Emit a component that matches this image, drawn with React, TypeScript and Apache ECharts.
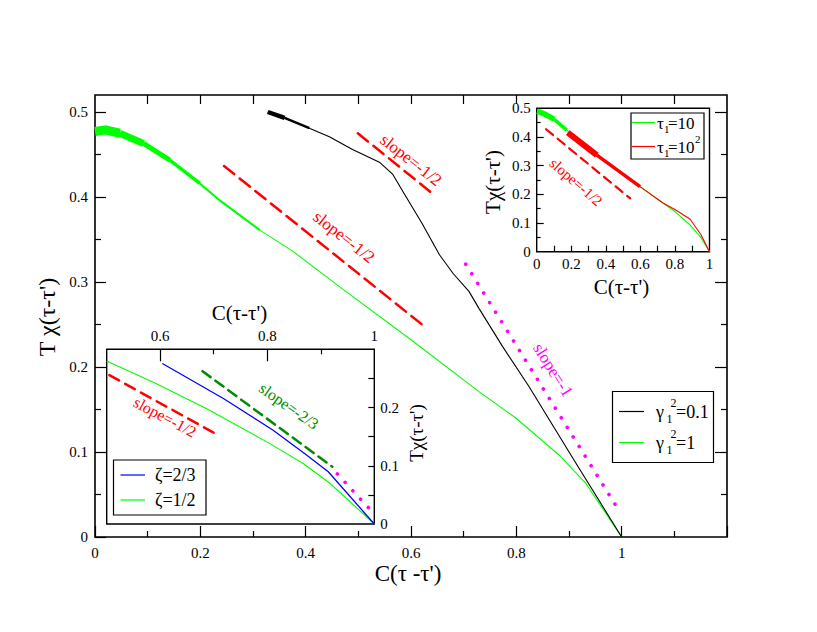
import { useEffect, useRef } from "react";
import * as echarts from "echarts";

// ---------- data ----------
const mainGreen: number[][] = [
  [0.0, 0.477], [0.02, 0.479], [0.047, 0.475], [0.092, 0.463], [0.142, 0.4435],
  [0.199, 0.416], [0.237, 0.396], [0.313, 0.361], [0.376, 0.336], [0.464, 0.2945],
  [0.6, 0.232], [0.729, 0.171], [0.799, 0.14], [0.881, 0.0965], [0.932, 0.063], [1.0, 0],
];
const mainBlack: number[][] = [
  [0.328, 0.5], [0.36, 0.493], [0.407, 0.481], [0.445, 0.471], [0.489, 0.456],
  [0.54, 0.441], [0.565, 0.427], [0.584, 0.407], [0.62, 0.37], [0.654, 0.332],
  [0.68, 0.31], [0.71, 0.289], [0.729, 0.269], [0.774, 0.224], [0.824, 0.177],
  [0.91, 0.09], [1.0, 0],
];
const mainSlopeHalfLow: number[][] = [[0.245, 0.4365], [0.629, 0.246]];
const mainSlopeHalfHigh: number[][] = [[0.499, 0.475], [0.646, 0.4015]];
const mainSlopeOne: number[][] = [[0.704, 0.321], [0.992, 0.034]];

const inset1Tau10: number[][] = [
  [0.003, 0.49], [0.05, 0.479], [0.1, 0.462], [0.174, 0.424], [0.348, 0.337],
  [0.598, 0.227], [0.733, 0.169], [0.8, 0.14], [0.888, 0.093], [0.95, 0.05], [1.0, 0],
];
const inset1Tau100: number[][] = [
  [0.18, 0.415], [0.348, 0.337], [0.598, 0.227], [0.733, 0.169], [0.8, 0.147],
  [0.888, 0.113], [0.95, 0.06], [1.0, 0],
];
const inset1SlopeHalf: number[][] = [[0.054, 0.427], [0.541, 0.186]];

const inset2Zeta23: number[][] = [
  [0.604, 0.2756], [0.718, 0.2156], [0.811, 0.161], [0.874, 0.118], [0.914, 0.0897], [1.0, 0],
];
const inset2Zeta12: number[][] = [
  [0.5, 0.28], [0.593, 0.241], [0.687, 0.198], [0.805, 0.138], [0.867, 0.104], [0.917, 0.07], [1.0, 0],
];
const inset2SlopeHalf: number[][] = [[0.505, 0.2556], [0.7055, 0.154]];
const inset2SlopeTwoThirds: number[][] = [[0.679, 0.2624], [0.9215, 0.0983]];
const inset2SlopeOne: number[][] = [[0.931, 0.086], [1.0, 0.017]];

// ---------- tick values ----------
const mainXLabels = [0, 0.2, 0.4, 0.6, 0.8, 1];
const mainXMajor = [0, 0.2, 0.4, 0.6, 0.8, 1, 1.2];
const mainXMinor = [0.1, 0.3, 0.5, 0.7, 0.9, 1.1];
const mainXTop = [0.1, 0.2, 0.3, 0.4, 0.5, 0.6, 0.7, 0.8, 0.9, 1.0, 1.1];
const mainYLabels = [0, 0.1, 0.2, 0.3, 0.4, 0.5];
const mainYMinor = [0.05, 0.15, 0.25, 0.35, 0.45];
const inset1XLabels = [0, 0.2, 0.4, 0.6, 0.8, 1];
const inset1XTicks = [0.1, 0.2, 0.3, 0.4, 0.5, 0.6, 0.7, 0.8, 0.9];
const inset1YLabels = [0, 0.1, 0.2, 0.3, 0.4, 0.5];
const inset1YMajor = [0.1, 0.2, 0.3, 0.4];
const inset1YMinor = [0.05, 0.15, 0.25, 0.35, 0.45];
const inset2XLabels = [0.6, 0.8, 1];
const inset2XMajor = [0.6, 0.8];
const inset2XMinor = [0.7, 0.9];
const inset2YLabels = [0, 0.1, 0.2];
const inset2YTicks = [0.05, 0.1, 0.15, 0.2, 0.25];

const SERIF = '"Liberation Serif", "Times New Roman", serif';
const FONT = '"Liberation Serif", serif';
const GREEN = "#00ff00";
const RED = "#ff0000";
const MAGENTA = "#ff00ff";
const BLUE = "#0000ff";
const DKGREEN = "#008b00";

const fmt = (v: number) => String(Number(Number(v).toFixed(2)));

function axis(
  grid: number, position: string, min: number, max: number,
  ticks: number[], len: number, labels?: number[], margin = 6, fontSize = 15
) {
  return {
    type: "value",
    gridIndex: grid,
    position,
    min,
    max,
    axisLine: { show: false, onZero: false },
    splitLine: { show: false },
    axisTick: {
      show: true,
      inside: true,
      length: len,
      customValues: ticks,
      lineStyle: { color: "#000", width: 1.2 },
    },
    axisLabel: labels
      ? {
          show: true,
          customValues: labels,
          margin,
          color: "#000",
          fontFamily: SERIF,
          fontSize,
          formatter: (v: number) => `{t|${fmt(v)}}`,
          rich: { t: { fontFamily: SERIF, fontSize, color: "#000" } },
        }
      : { show: false },
  };
}

function line(data: number[][], xi: number, yi: number, color: string, width: number, type: any = "solid", z = 2) {
  return {
    type: "line",
    data,
    xAxisIndex: xi,
    yAxisIndex: yi,
    symbol: "none",
    showSymbol: false,
    silent: true,
    z,
    lineStyle: { color, width, type, cap: Array.isArray(type) ? "round" : "butt", join: "round" },
  };
}

function txt(text: string, x: number, y: number, size: number, color = "#000", rotDeg = 0, align = "center") {
  return {
    type: "text",
    x,
    y,
    rotation: (rotDeg * Math.PI) / 180,
    silent: true,
    z: 100,
    style: {
      text,
      fill: color,
      font: `${size}px ${FONT}`,
      align,
      verticalAlign: "middle",
      textAlign: align,
      textVerticalAlign: "middle",
    },
  };
}

function seg(x1: number, y1: number, x2: number, y2: number, color: string, w = 1.2) {
  return { type: "line", silent: true, z: 100, shape: { x1, y1, x2, y2 }, style: { stroke: color, lineWidth: w } };
}

function box(x: number, y: number, w: number, h: number) {
  return { type: "rect", silent: true, z: 99, shape: { x, y, width: w, height: h }, style: { fill: "#fff", stroke: "#000", lineWidth: 1.2 } };
}

export default function App() {
  const ref = useRef<HTMLDivElement>(null);

  useEffect(() => {
    if (!ref.current) return;
    const chart = echarts.init(ref.current, undefined, { renderer: "svg" });

    const xAxis = [
      axis(0, "bottom", 0, 1.2, mainXMajor, 11, mainXLabels, 8, 15), // 0
      axis(0, "bottom", 0, 1.2, mainXMinor, 6), // 1
      axis(0, "top", 0, 1.2, mainXTop, 9), // 2
      axis(1, "bottom", 0, 1, inset1XTicks, 6, inset1XLabels, 5, 15), // 3
      axis(2, "top", 0.5, 1, inset2XMajor, 12, inset2XLabels, 6, 15), // 4
      axis(2, "top", 0.5, 1, inset2XMinor, 5), // 5
    ];
    const yAxis = [
      axis(0, "left", 0, 0.52, mainYLabels, 11, mainYLabels, 7, 15), // 0
      axis(0, "left", 0, 0.52, mainYMinor, 6), // 1
      axis(0, "right", 0, 0.52, mainYLabels.slice(1), 12), // 2
      axis(0, "right", 0, 0.52, mainYMinor, 6), // 3
      axis(1, "left", 0, 0.5, inset1YMajor, 7, inset1YLabels, 6, 15), // 4
      axis(1, "left", 0, 0.5, inset1YMinor, 4), // 5
      axis(2, "right", 0, 0.3, inset2YTicks, 6, inset2YLabels, 6, 15), // 6
    ];

    const series: any[] = [
      // main chart
      line(mainGreen, 0, 0, GREEN, 1.1),
      line(mainGreen.slice(0, 3), 0, 0, GREEN, 9),
      line(mainGreen.slice(2, 4), 0, 0, GREEN, 7),
      line(mainGreen.slice(3, 5), 0, 0, GREEN, 5),
      line(mainGreen.slice(4, 6), 0, 0, GREEN, 3.5),
      line(mainGreen.slice(5, 8), 0, 0, GREEN, 2),
      line(mainBlack, 0, 0, "#000", 1.1, "solid", 3),
      line(mainBlack.slice(0, 2), 0, 0, "#000", 4.5, "solid", 3),
      line(mainBlack.slice(1, 3), 0, 0, "#000", 2.5, "solid", 3),
      line(mainSlopeHalfLow, 0, 0, RED, 2.5, [13, 7]),
      line(mainSlopeHalfHigh, 0, 0, RED, 2.5, [13, 7]),
      line(mainSlopeOne, 0, 0, MAGENTA, 3.6, [0.1, 11.2]),
      // inset 1
      line(inset1Tau10, 3, 4, GREEN, 1.1),
      line(inset1Tau10.slice(0, 3), 3, 4, GREEN, 5.5),
      line(inset1Tau10.slice(2, 4), 3, 4, GREEN, 3.5),
      line(inset1Tau100, 3, 4, RED, 1.1, "solid", 3),
      line(inset1Tau100.slice(0, 2), 3, 4, RED, 6, "solid", 3),
      line(inset1Tau100.slice(1, 3), 3, 4, RED, 3.5, "solid", 3),
      line(inset1SlopeHalf, 3, 4, RED, 2.2, [9, 6]),
      // inset 2
      line(inset2Zeta23, 4, 6, BLUE, 1.3, "solid", 3),
      line(inset2Zeta12, 4, 6, GREEN, 1.1),
      line(inset2SlopeHalf, 4, 6, RED, 2.5, [11, 7]),
      line(inset2SlopeTwoThirds, 4, 6, DKGREEN, 2.5, [10, 6]),
      line(inset2SlopeOne, 4, 6, MAGENTA, 3.6, [0.1, 11.3]),
    ];

    const graphic: any[] = [
      // axis titles
      txt("C(τ -τ')", 408, 573, 23),
      txt("T χ(τ-τ')", 47, 317, 24, "#000", 90),
      txt("Tχ(τ-τ')", 492.5, 182, 21, "#000", 90),
      txt("C(τ-τ')", 621.5, 287, 21),
      txt("C(τ-τ')", 239.5, 313, 21),
      txt("Tχ(τ-τ')", 416, 433, 19, "#000", 90),
      // slope annotations
      txt("slope=-1/2", 344, 237, 17, RED, -38),
      txt("slope=-1/2", 411, 160, 17, RED, -38),
      txt("slope=-1", 553, 370, 17, MAGENTA, -58),
      txt("slope=-1/2", 576, 182, 15, RED, -41),
      txt("slope=-1/2", 165, 417, 16, RED, -28),
      txt("slope=-2/3", 289, 406, 16, DKGREEN, -35),
      // main legend
      box(612.5, 391.5, 101, 71),
      seg(619, 411.5, 644, 411.5, "#000"),
      txt("γ", 656, 412, 18, "#000", 0, "left"),
      txt("1", 666.5, 418.5, 12, "#000", 0, "left"),
      txt("2", 670.5, 403, 12, "#000", 0, "left"),
      txt("=0.1", 676, 412, 18, "#000", 0, "left"),
      seg(619, 442.5, 644, 442.5, GREEN),
      txt("γ", 656, 443, 18, "#000", 0, "left"),
      txt("1", 666.5, 449.5, 12, "#000", 0, "left"),
      txt("2", 670.5, 434, 12, "#000", 0, "left"),
      txt("=1", 676, 443, 18, "#000", 0, "left"),
      // inset 1 legend
      box(631, 113, 73, 46),
      seg(632, 122.5, 655, 122.5, GREEN),
      txt("τ", 657, 123, 17, "#000", 0, "left"),
      txt("1", 664, 129, 11, "#000", 0, "left"),
      txt("=10", 668, 123, 17, "#000", 0, "left"),
      seg(632, 146.5, 655, 146.5, RED),
      txt("τ", 657, 147, 17, "#000", 0, "left"),
      txt("1", 664, 153, 11, "#000", 0, "left"),
      txt("=10", 668, 147, 17, "#000", 0, "left"),
      txt("2", 695, 139, 11, "#000", 0, "left"),
      // inset 2 legend
      box(113.5, 460, 92.5, 55),
      seg(120.5, 475, 145, 475, BLUE),
      txt("ζ=2/3", 155, 475, 18, "#000", 0, "left"),
      seg(120.5, 500, 145, 500, GREEN),
      txt("ζ=1/2", 155, 500, 18, "#000", 0, "left"),
    ];

    chart.setOption({
      animation: false,
      backgroundColor: "#fff",
      textStyle: { fontFamily: SERIF },
      grid: [
        { left: 95, top: 95, width: 632, height: 442, show: true, borderColor: "#000", borderWidth: 1.6, backgroundColor: "#fff", containLabel: false },
        { left: 536.7, top: 108.3, width: 172.8, height: 143.4, show: true, borderColor: "#000", borderWidth: 1.4, backgroundColor: "#fff", containLabel: false },
        { left: 106.7, top: 349.3, width: 267.6, height: 174.7, show: true, borderColor: "#000", borderWidth: 1.4, backgroundColor: "#fff", containLabel: false },
      ],
      xAxis,
      yAxis,
      series,
      graphic,
    });

    return () => chart.dispose();
  }, []);

  return (
    <div
      ref={ref}
      style={{ position: "fixed", left: 0, top: 0, width: 817, height: 632 }}
    />
  );
}
